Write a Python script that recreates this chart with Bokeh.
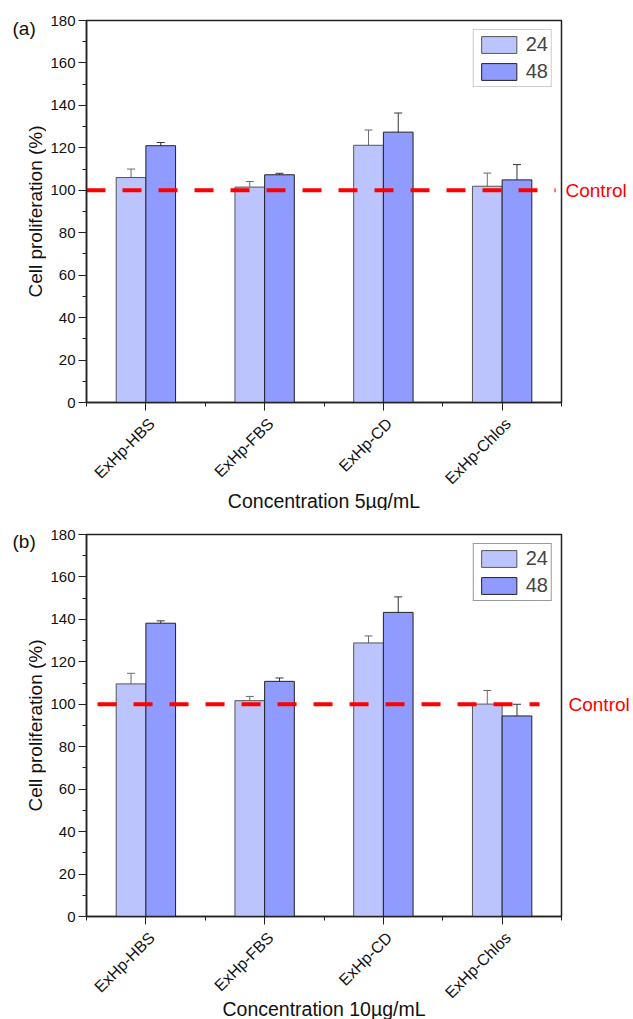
import math
from bokeh.plotting import figure
from bokeh.models import (FixedTicker, Legend, LegendItem, ColumnDataSource,
                          Whisker, TeeHead, Range1d, LinearAxis)
from bokeh.core.properties import value
from bokeh.layouts import column, row
from bokeh.embed import file_html
from bokeh.resources import INLINE

# ---------------- data ----------------
categories = ["ExHp-HBS", "ExHp-FBS", "ExHp-CD", "ExHp-Chlos"]
series_names = ["24", "48"]

a_24 = [106.0, 101.5, 121.2, 101.9]
a_24_err = [4.0, 2.6, 7.2, 6.2]
a_48 = [121.0, 107.3, 127.4, 104.9]
a_48_err = [1.5, 0.7, 9.0, 7.2]

b_24 = [109.6, 101.7, 128.9, 100.1]
b_24_err = [5.0, 2.0, 3.3, 6.4]
b_48 = [138.2, 110.8, 143.3, 94.5]
b_48_err = [1.1, 1.6, 7.3, 5.5]

control_value = 100
control_label = "Control"
y_ticks = list(range(0, 181, 20))
y_minor = list(range(0, 181, 10))
x_labels = ["Concentration 5\u00b5g/mL", "Concentration 10\u00b5g/mL"]
y_label = "Cell proliferation (%)"
panel_tags = ["(a)", "(b)"]

# ---------------- style ----------------
FONT = "Liberation Sans"
C24 = "#BCC4FE"
C48 = "#8F9BFE"
BAR_W = 0.25
TAG_W = 46          # left strip: panel letter + y title
TOTAL_W = 633
LEFT_B = 86 - TAG_W
RIGHT_B = 72
FRAME_H = 382
BOT = 11            # bottom border of the main plot (ticks only)


def bare_figure(width, height, x_range, y_range, left=0, right=0, top=0, bottom=0):
    s = figure(width=width, height=height, x_range=x_range, y_range=y_range,
               output_backend="svg", toolbar_location=None, title_location=None,
               x_axis_location=None, y_axis_location=None,
               min_border_left=left, min_border_right=right,
               min_border_top=top, min_border_bottom=bottom)
    s.grid.visible = False
    s.outline_line_color = None
    return s


def make_tag_strip(tag, height, tag_y, frame_top):
    s = bare_figure(TAG_W, height, Range1d(0, TAG_W), Range1d(height, 0))
    s.text(x=[12], y=[tag_y], text=[tag], text_font=value(FONT), text_font_size="19px",
           text_align="left", text_baseline="middle", text_color="#111111")
    s.text(x=[35], y=[frame_top + FRAME_H / 2], text=[y_label], angle=math.pi / 2,
           text_font=value(FONT), text_font_size="19px", text_align="center",
           text_baseline="middle", text_color="#111111")
    return s


def make_label_strip(x_range, height, xlabel, title_mid):
    s = bare_figure(TOTAL_W - TAG_W, height, x_range, Range1d(height, 0),
                    left=LEFT_B, right=RIGHT_B)
    centers = [i + 0.5 for i in range(len(categories))]
    s.text(x=centers, y=[18.5 - BOT] * len(categories), text=categories, angle=math.pi / 4,
           x_offset=6, text_font=value(FONT), text_font_size="16px",
           text_align="right", text_baseline="middle", text_color="#111111")
    s.text(x=[len(categories) / 2], y=[title_mid], text=[xlabel],
           text_font=value(FONT), text_font_size="19.5px", text_align="center",
           text_baseline="middle", text_color="#111111")
    return s


def make_panel(v24, e24, v48, e48, top_b, legend_border, ctrl_x0, ctrl_x1, ctrl_standoff):
    p = figure(width=TOTAL_W - TAG_W, height=top_b + FRAME_H + BOT,
               x_range=Range1d(0, len(categories)), y_range=Range1d(0, 180),
               output_backend="svg", toolbar_location=None, title_location=None,
               min_border_left=LEFT_B, min_border_right=RIGHT_B, min_border_top=top_b,
               min_border_bottom=BOT)
    p.xgrid.visible = False
    p.ygrid.visible = False
    p.outline_line_color = "#222222"
    p.outline_line_width = 1.5

    centers = [i + 0.5 for i in range(len(categories))]
    x24 = [c - BAR_W / 2 for c in centers]
    x48 = [c + BAR_W / 2 for c in centers]

    r24 = p.vbar(x=x24, top=v24, width=BAR_W, bottom=0, fill_color=C24,
                 line_color="#555555", line_width=1)
    r48 = p.vbar(x=x48, top=v48, width=BAR_W, bottom=0, fill_color=C48,
                 line_color="#222222", line_width=1)

    for xs, vs, es, col in ((x24, v24, e24, "#6a6a6a"), (x48, v48, e48, "#333333")):
        src = ColumnDataSource(dict(x=xs, upper=[v + e for v, e in zip(vs, es)],
                                    lower=[v - e for v, e in zip(vs, es)]))
        p.add_layout(Whisker(base="x", upper="upper", lower="lower", source=src,
                             line_color=col, line_width=1,
                             upper_head=TeeHead(size=8, line_color=col, line_width=1),
                             lower_head=TeeHead(size=8, line_color=col, line_width=1)))

    p.line(x=[ctrl_x0, ctrl_x1], y=[control_value, control_value], line_color="#FF0000",
           line_width=4, line_dash="19 17")

    # "Control" carried by a tick-less right axis
    ra = LinearAxis(ticker=FixedTicker(ticks=[control_value], minor_ticks=[]))
    ra.major_label_overrides = {control_value: control_label}
    ra.axis_line_color = None
    ra.major_tick_line_color = None
    ra.minor_tick_line_color = None
    ra.major_tick_out = 0
    ra.major_tick_in = 0
    ra.major_label_standoff = ctrl_standoff
    ra.major_label_text_color = "#FF0000"
    ra.major_label_text_font = FONT
    ra.major_label_text_font_size = "19px"
    p.add_layout(ra, "right")

    # x axis: ticks only (names drawn in the strip below)
    xa = p.xaxis[0]
    xa.ticker = FixedTicker(ticks=centers, minor_ticks=list(range(len(categories) + 1)))
    xa.major_label_overrides = {c: "" for c in centers}
    xa.major_label_text_font_size = "0px"
    xa.major_label_standoff = 0
    xa.major_tick_out = 8
    xa.major_tick_in = 0
    xa.minor_tick_out = 4
    xa.minor_tick_in = 0
    xa.axis_line_width = 1.5
    xa.axis_line_color = "#222222"
    xa.major_tick_line_color = "#222222"
    xa.minor_tick_line_color = "#222222"

    ya = p.yaxis[0]
    ya.ticker = FixedTicker(ticks=y_ticks, minor_ticks=y_minor)
    ya.major_label_text_font = FONT
    ya.major_label_text_font_size = "15px"
    ya.major_label_text_color = "#111111"
    ya.major_tick_out = 8
    ya.major_tick_in = 0
    ya.minor_tick_out = 4
    ya.minor_tick_in = 0
    ya.axis_line_width = 1.5
    ya.axis_line_color = "#222222"
    ya.major_tick_line_color = "#222222"
    ya.minor_tick_line_color = "#222222"
    ya.major_label_standoff = 3

    legend = Legend(items=[LegendItem(label=series_names[0], renderers=[r24]),
                           LegendItem(label=series_names[1], renderers=[r48])],
                    location="top_right", margin=9, padding=3, spacing=4,
                    glyph_width=44, glyph_height=21, label_standoff=5,
                    label_text_font=FONT, label_text_font_size="20px",
                    label_height=21, label_text_baseline="middle",
                    border_line_color=legend_border, border_line_width=1,
                    background_fill_color="white", background_fill_alpha=1)
    p.add_layout(legend)
    return p


H_A, H_B = 510, 509
TOP_A, TOP_B = 20, 24

pa = make_panel(a_24, a_24_err, a_48, a_48_err, TOP_A, "#999999", 0.0, 3.95, 4)
pb = make_panel(b_24, b_24_err, b_48, b_48_err, TOP_B, "#333333", 0.093, 3.815, 7)

main_a_h = TOP_A + FRAME_H + BOT
main_b_h = TOP_B + FRAME_H + BOT
la = make_label_strip(pa.x_range, H_A - main_a_h, x_labels[0], 500 - main_a_h)
lb = make_label_strip(pb.x_range, H_B - main_b_h, x_labels[1], 1008 - H_A - main_b_h)

ta = make_tag_strip(panel_tags[0], H_A, 28, TOP_A)
tb = make_tag_strip(panel_tags[1], H_B, 31, TOP_B)

panel_a = row(ta, column(pa, la, spacing=0), spacing=0)
panel_b = row(tb, column(pb, lb, spacing=0), spacing=0)
layout = column(panel_a, panel_b, spacing=0)
open("out.html", "w").write(file_html(layout, INLINE))
